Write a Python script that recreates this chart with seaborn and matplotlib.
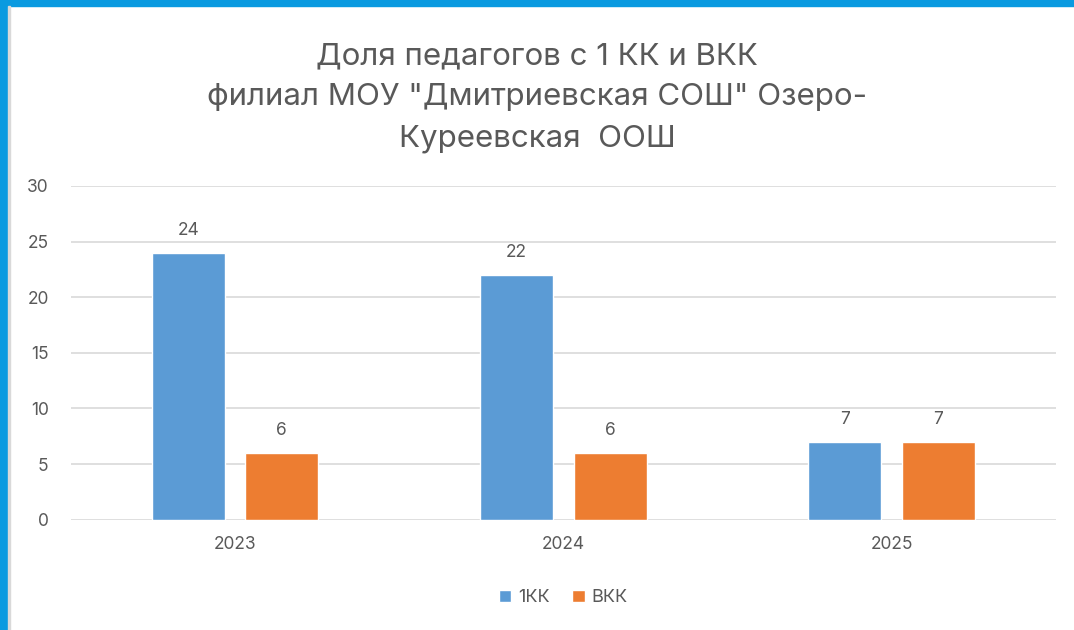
import matplotlib.pyplot as plt
import matplotlib.patches as mpatches
import seaborn as sns
import pandas as pd

years = ["2023", "2024", "2025"]
series_names = ["1КК", "ВКК"]
kk1_values = [24, 22, 7]
vkk_values = [6, 6, 7]
y_ticks = [0, 5, 10, 15, 20, 25, 30]
title_text = 'Доля педагогов с 1 КК и ВКК\nфилиал МОУ "Дмитриевская СОШ" Озеро-\nКуреевская  ООШ'

df = pd.DataFrame({
    "year": years * 2,
    "series": [series_names[0]] * 3 + [series_names[1]] * 3,
    "value": kk1_values + vkk_values,
})

sns.set_theme(style="white")
plt.rcParams['font.family'] = ['Inter', 'DejaVu Sans']
text_grey = "#595959"

fig = plt.figure(figsize=(10.74, 6.30), dpi=100)
ax = fig.add_axes([0.066, 0.175, 0.917, 0.53])

sns.barplot(data=df, x="year", y="value", hue="series",
            palette=["#5B9BD5", "#ED7D31"], width=0.57, gap=0.22,
            saturation=1, ax=ax, legend=True)

for cont in ax.containers:
    ax.bar_label(cont, padding=10, fontsize=12.5, color=text_grey)

ax.set_ylim(0, 30)
ax.set_xlim(-0.5, 2.5)
ax.set_yticks(y_ticks)
ax.yaxis.grid(True, color="#D9D9D9", linewidth=1.2)
ax.set_axisbelow(True)
for s in ax.spines.values():
    s.set_visible(False)
ax.set_xlabel("")
ax.set_ylabel("")
ax.tick_params(axis="both", length=0, labelsize=12.5, colors=text_grey)
ax.tick_params(axis="y", pad=16)
ax.tick_params(axis="x", pad=12)

leg = ax.legend(loc="center", bbox_to_anchor=(0.5, -0.234), ncol=2, frameon=False,
                fontsize=13, handlelength=0.7, handleheight=0.7, columnspacing=1.2,
                handletextpad=0.4)
for t in leg.get_texts():
    t.set_color(text_grey)

fig.text(0.5, 0.845, title_text, ha="center", va="center", fontsize=22.5,
         color=text_grey, linespacing=1.6)

# blue frame like the screenshot
fig.patches.append(mpatches.Rectangle((0, 0), 8 / 1074, 1, transform=fig.transFigure,
                                      color="#0A9AE0", zorder=0))
fig.patches.append(mpatches.Rectangle((0, 1 - 6 / 630), 1, 6 / 630, transform=fig.transFigure,
                                      color="#0A9AE0", zorder=0))
fig.patches.append(mpatches.Rectangle((8 / 1074, 0), 2 / 1074, 1 - 6 / 630, transform=fig.transFigure,
                                      color="#D9D9D9", zorder=0))

fig.savefig("out.png", dpi=100, facecolor="white")
plt.close(fig)
